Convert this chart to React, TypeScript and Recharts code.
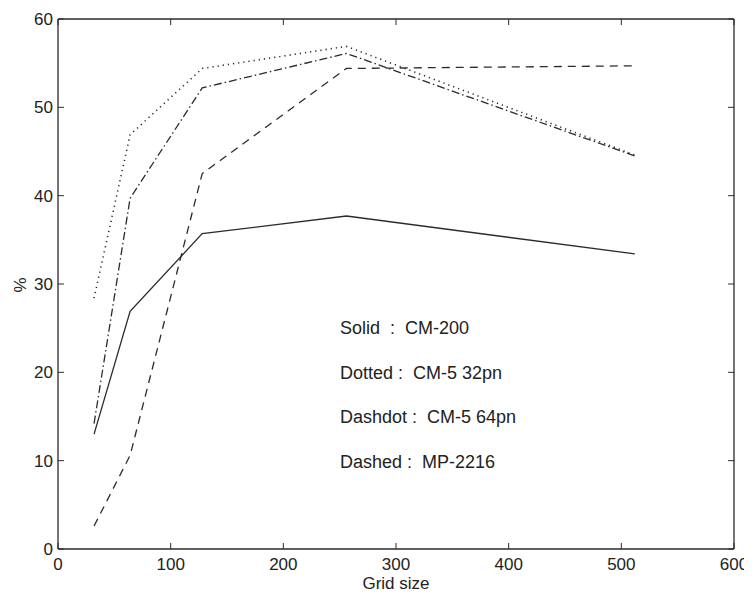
import { LineChart, Line, XAxis, YAxis } from "recharts";

const GRID_SIZES = [32, 64, 128, 256, 512];
const SOLID_CM200 = [13.0, 26.9, 35.7, 37.7, 33.4];
const DOTTED_CM5_32PN = [28.4, 46.9, 54.4, 56.9, 44.6];
const DASHDOT_CM5_64PN = [14.2, 39.7, 52.2, 56.1, 44.5];
const DASHED_MP2216 = [2.6, 10.6, 42.5, 54.4, 54.7];

const X_TICKS = [0, 100, 200, 300, 400, 500, 600];
const Y_TICKS = [0, 10, 20, 30, 40, 50, 60];

const LEGEND_LINES = [
  "Solid  :  CM-200",
  "Dotted :  CM-5 32pn",
  "Dashdot :  CM-5 64pn",
  "Dashed :  MP-2216",
];

const data = GRID_SIZES.map((size, i) => ({
  size,
  solid: SOLID_CM200[i],
  dotted: DOTTED_CM5_32PN[i],
  dashdot: DASHDOT_CM5_64PN[i],
  dashed: DASHED_MP2216[i],
}));

const INK = "#2b2b2b";
const FONT = "'Liberation Sans', Arial, Helvetica, sans-serif";
const tickStyle = { fontFamily: FONT, fontSize: 17, fill: "#222" };

const W = 744;
const H = 585;

const noLabel = () => <g />;

export default function App() {
  return (
    <div style={{ position: "relative", width: W, height: H, fontFamily: FONT }}>
      <LineChart
        width={W}
        height={H}
        data={data}
        margin={{ top: 10, right: 17, bottom: 0, left: 10 }}
      >
        <XAxis
          xAxisId="bottom"
          dataKey="size"
          type="number"
          domain={[0, 600]}
          ticks={X_TICKS}
          height={44}
          tickSize={-6}
          tickMargin={15}
          tick={tickStyle}
          axisLine={{ stroke: INK, strokeWidth: 1.3 }}
          tickLine={{ stroke: INK }}
          label={{
            value: "Grid size",
            position: "insideBottom",
            offset: 4,
            style: { fontFamily: FONT, fontSize: 17, fill: "#222" },
          }}
        />
        <XAxis
          xAxisId="top"
          orientation="top"
          dataKey="size"
          type="number"
          domain={[0, 600]}
          ticks={X_TICKS}
          height={1}
          tickSize={-6}
          tick={noLabel}
          axisLine={{ stroke: INK, strokeWidth: 1.3 }}
          tickLine={{ stroke: INK }}
        />
        <YAxis
          yAxisId="left"
          type="number"
          domain={[0, 60]}
          ticks={Y_TICKS}
          width={40}
          tickSize={-6}
          tickMargin={11}
          tick={tickStyle}
          axisLine={{ stroke: INK, strokeWidth: 1.3 }}
          tickLine={{ stroke: INK }}
          label={{
            value: "%",
            content: ({ viewBox }: any) => {
              const cy = viewBox.y + viewBox.height / 2 + 1;
              const cx = 12;
              return (
                <text
                  x={cx}
                  y={cy}
                  transform={`rotate(-90, ${cx}, ${cy})`}
                  textAnchor="middle"
                  dominantBaseline="central"
                  style={{ fontFamily: FONT, fontSize: 17, fill: "#222" }}
                >
                  %
                </text>
              );
            },
          }}
        />
        <YAxis
          yAxisId="right"
          orientation="right"
          type="number"
          domain={[0, 60]}
          ticks={Y_TICKS}
          width={1}
          tickSize={-6}
          tick={noLabel}
          axisLine={{ stroke: INK, strokeWidth: 1.3 }}
          tickLine={{ stroke: INK }}
        />
        {/* invisible series so the mirrored top/right axes get drawn */}
        <Line
          xAxisId="top"
          yAxisId="right"
          dataKey="solid"
          stroke="none"
          dot={false}
          activeDot={false}
          isAnimationActive={false}
        />
        <Line
          xAxisId="bottom"
          yAxisId="left"
          type="linear"
          dataKey="solid"
          stroke={INK}
          strokeWidth={1.3}
          dot={false}
          isAnimationActive={false}
        />
        <Line
          xAxisId="bottom"
          yAxisId="left"
          type="linear"
          dataKey="dotted"
          stroke={INK}
          strokeWidth={1.6}
          strokeDasharray="1.2 4"
          dot={false}
          isAnimationActive={false}
        />
        <Line
          xAxisId="bottom"
          yAxisId="left"
          type="linear"
          dataKey="dashdot"
          stroke={INK}
          strokeWidth={1.3}
          strokeDasharray="8 3 1.5 3"
          dot={false}
          isAnimationActive={false}
        />
        <Line
          xAxisId="bottom"
          yAxisId="left"
          type="linear"
          dataKey="dashed"
          stroke={INK}
          strokeWidth={1.3}
          strokeDasharray="8 6"
          dot={false}
          isAnimationActive={false}
        />
      </LineChart>
      {/* legend notes sit inside the plot, as in the original figure */}
      <svg
        width={W}
        height={H}
        style={{ position: "absolute", left: 0, top: 0, pointerEvents: "none" }}
      >
        {LEGEND_LINES.map((t, i) => (
          <text
            key={t}
            x={332}
            y={326 + i * 44.5}
            style={{ fontFamily: FONT, fontSize: 18, fill: "#222", whiteSpace: "pre" }}
          >
            {t}
          </text>
        ))}
      </svg>
    </div>
  );
}
